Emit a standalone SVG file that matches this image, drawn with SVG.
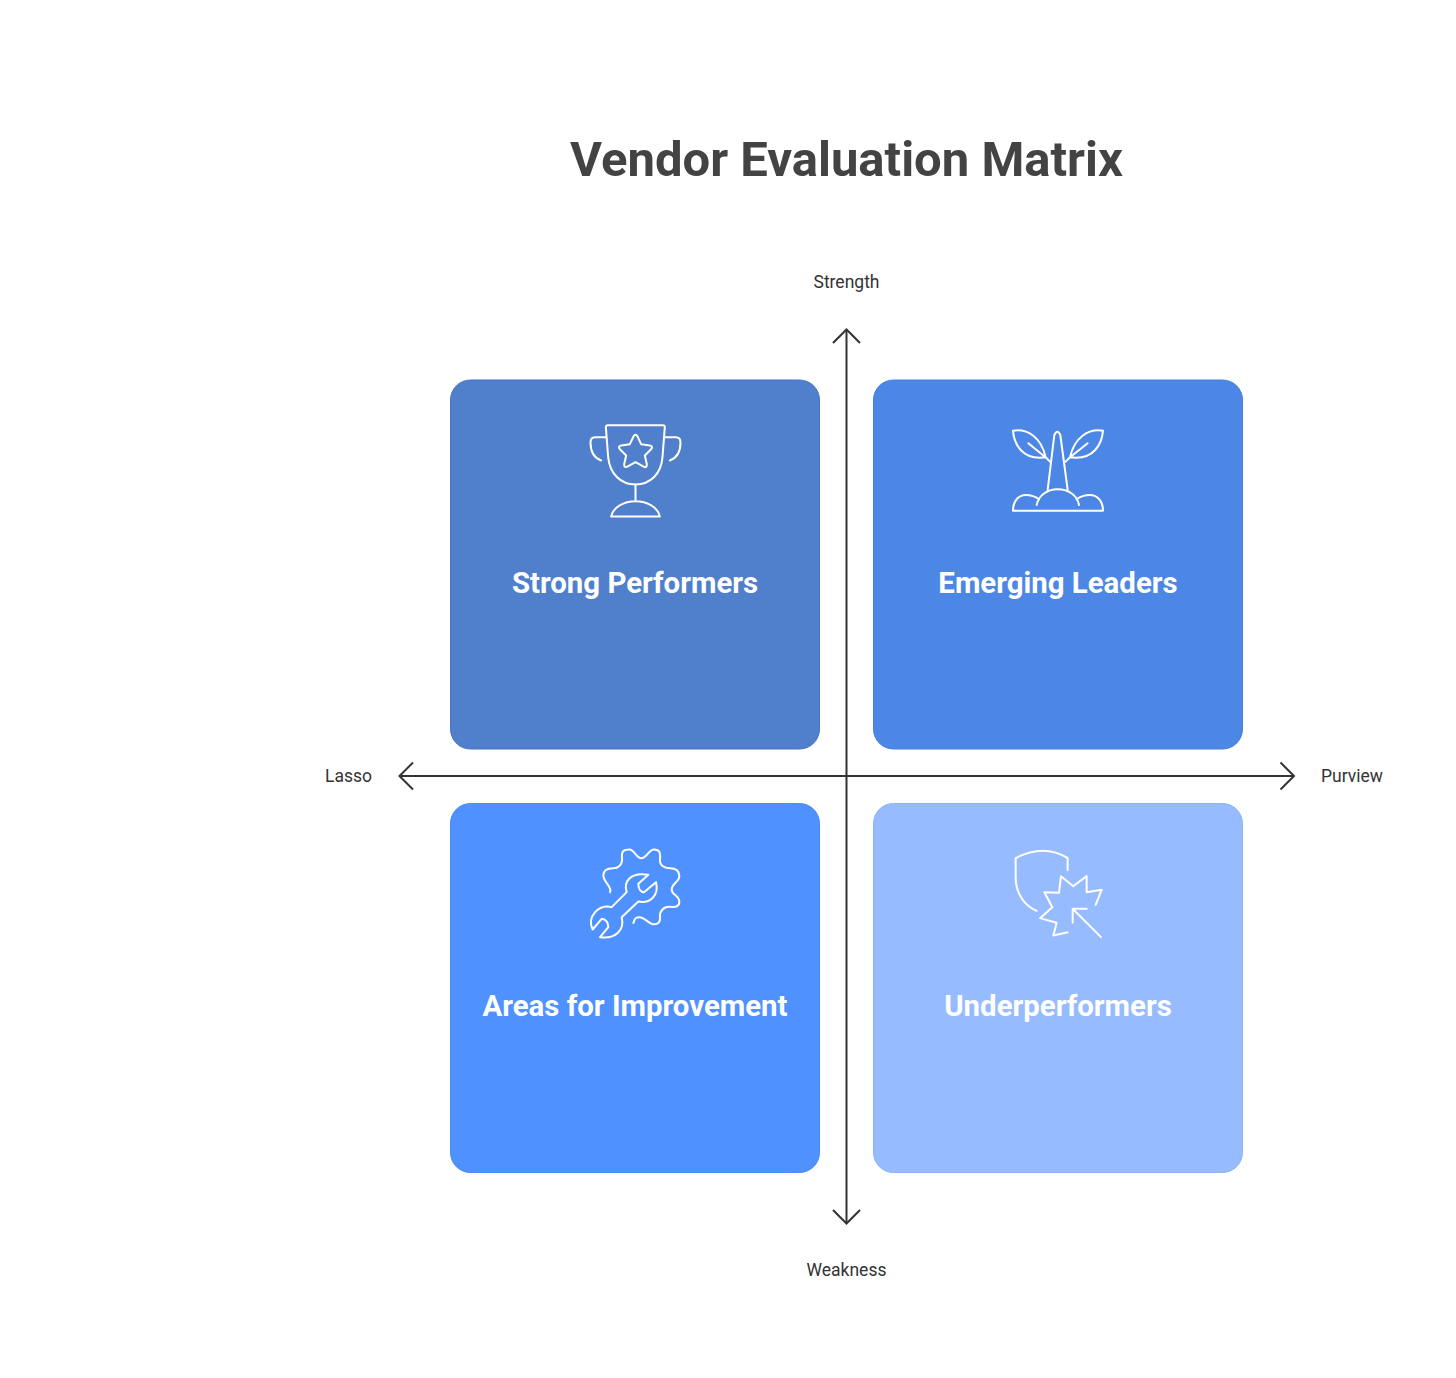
<svg xmlns="http://www.w3.org/2000/svg" width="1456" height="1378" viewBox="0 0 1456 1378">
<style>
text{font-family:Roboto,"Liberation Sans",sans-serif;text-anchor:middle}
.title{font-size:49px;font-weight:700;fill:#434343}
.axis{font-size:17.500px;fill:#333}
.lab{font-size:29.400px;font-weight:700;fill:#fff}
.ic{fill:none;stroke:#fff;stroke-width:6;stroke-linecap:round;stroke-linejoin:round}
.ax{fill:none;stroke:#333;stroke-width:2}
</style>
<rect width="1456" height="1378" fill="#fff"/>
<text id="title" class="title" x="846.500" y="176">Vendor Evaluation Matrix</text>
<g id="strong-performers">
<rect x="450.500" y="380" width="369" height="369" rx="20" fill="#507FCB" stroke="#4775C4"/>
<g class="ic" transform="translate(570.500,410.500) scale(.3333)">
<path d="M106 50Q106 44 112 44H277Q283 44 283 50L276 140C272 190 240 222 195 222C150 222 118 190 113 140Z"/>
<path d="M107 80H74Q60 80 60 96C60 120 70 142 92 150M283 80H316Q330 80 330 96C330 120 320 142 298 150"/>
<path d="M195 222V272M122 318H268C262 290 230 272 195 272C160 272 128 290 122 318Z"/>
<path d="M189 78Q195 68 201 78L212 101L238 105Q250 108 241 117L223 135L229 161Q229 174 218 168L195 155L172 168Q161 174 161 161L167 135L149 117Q140 108 152 105L178 101Z"/>
</g>
<text class="lab" x="635" y="592.500">Strong Performers</text>
</g>
<g id="emerging-leaders">
<rect x="873.500" y="380" width="369" height="369" rx="20" fill="#4D87E6" stroke="#447EDD"/>
<g class="ic" transform="translate(995,410) scale(.3333)">
<path d="M158 240L178 75Q187 55 196 75L218 240"/>
<path d="M165 155L152 142C140 85 100 55 54 62C57 100 80 152 152 142M100 100L155 145"/>
<path d="M212 155L225 142C237 85 278 55 324 62C321 100 298 152 225 142M278 100L225 142"/>
<path d="M54 302H324C324 275 308 255 285 255C270 255 255 260 245 268M54 302C54 275 70 255 92 255C108 255 122 260 132 268"/>
<path d="M125 285C130 258 155 238 188 238C222 238 248 258 252 285"/>
</g>
<text class="lab" x="1058" y="592.500">Emerging Leaders</text>
</g>
<g id="areas-for-improvement">
<rect x="450.500" y="803.500" width="369" height="369" rx="20" fill="#4F91FF" stroke="#478AF8"/>
<g class="ic" transform="translate(570,835.500) scale(.3333)">
<path d="M120 170C128 155 100 140 100 120S118 98 130 98S158 90 156 68S162 42 178 42S198 68 214 68S236 42 252 42S272 50 270 70S282 98 300 98S328 105 328 122S305 145 305 162S328 180 328 198S315 215 298 214S268 228 270 245S262 268 248 266S225 245 208 245S195 255 190 262"/>
<path d="M125 215L170 170C160 140 180 108 235 118L205 145C205 160 212 170 222 170L258 140C268 180 240 205 205 198L155 245C165 285 135 312 90 305L115 275C115 262 108 252 95 250L68 282C50 245 85 205 125 215Z"/>
</g>
<text class="lab" x="635" y="1016">Areas for Improvement</text>
</g>
<g id="underperformers">
<rect x="873.500" y="803.500" width="369" height="369" rx="20" fill="#96BBFF" stroke="#8DB3F8"/>
<g class="ic" transform="translate(995,835.500) scale(.3333)">
<path d="M125 226C90 212 62 175 62 125V68C120 38 170 38 218 68V104"/>
<path d="M218 290L175 300L185 262L135 248L172 215L148 170L192 172L198 122L235 152L275 122L275 170L320 163L302 208"/>
<path d="M318 305L233 220M233 262V220H275"/>
</g>
<text class="lab" x="1058" y="1016">Underperformers</text>
</g>
<g id="connectors">
<path class="ax" d="M846.500 329.500V1223M399 776H1293.500"/>
<path class="ax" d="M833 343L846.500 329.500L860 343M833 1210L846.500 1223.500L860 1210M413 762.500L399.500 776L413 789.500M1280.500 762.500L1294 776L1280.500 789.500"/>
</g>
<text class="axis" x="846.500" y="288">Strength</text>
<text class="axis" x="846.500" y="1275.500">Weakness</text>
<text class="axis" x="348.500" y="781.500">Lasso</text>
<text class="axis" x="1352" y="781.500">Purview</text>
</svg>
